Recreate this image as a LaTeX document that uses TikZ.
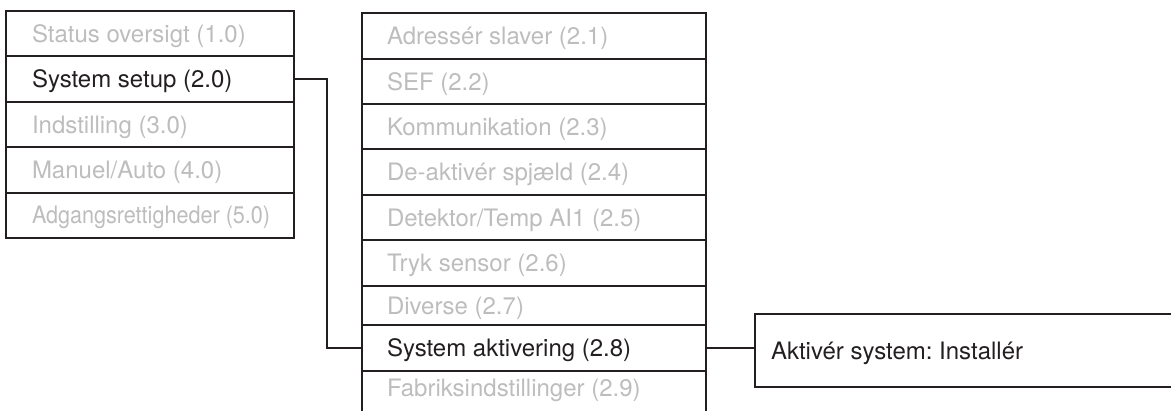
\documentclass[tikz,border=0pt]{standalone}
\usepackage{fontspec}
\setmainfont{TeX Gyre Heros}
\frenchspacing
\definecolor{linecol}{HTML}{231F20}
\definecolor{dimtext}{HTML}{BDBDBD}
\newcommand{\lrow}[1]{\makebox[236pt][l]{#1}}
\newcommand{\mrow}[1]{\makebox[294pt][l]{#1}}
\tikzset{
  box/.style={draw=linecol, line width=2pt, anchor=north west,
    inner ysep=0pt, text height=17.2pt, text depth=0pt,
    font=\fontsize{24}{28}\selectfont},
  lcol/.style={box, inner xsep=26pt},
  mcol/.style={box, inner xsep=25pt},
  dim/.style={text=dimtext},
  act/.style={text=linecol},
  conn/.style={draw=linecol, line width=2pt}
}
\begin{document}
\begin{tikzpicture}[x=1pt,y=-1pt]
\useasboundingbox (0,0) rectangle (1171,410);
\clip (0,0) rectangle (1171,410);
% left column
\node[lcol,dim,minimum height=45.4pt] (l1) at (5,10) {\lrow{Status oversigt (1.0)}};
\node[lcol,act,minimum height=45.4pt] (l2) at (5,55.4) {\lrow{System setup (2.0)}};
\node[lcol,dim,minimum height=45.4pt] (l3) at (5,100.8) {\lrow{Indstilling (3.0)}};
\node[lcol,dim,minimum height=45.4pt] (l4) at (5,146.2) {\lrow{Manuel/Auto (4.0)}};
\node[lcol,dim,minimum height=45.4pt] (l5) at (5,191.6) {\lrow{\scalebox{0.9}[1]{Adgangsrettigheder (5.0)}}};
% middle column
\node[mcol,dim,minimum height=46pt] (m1) at (361,12) {\mrow{Adressér slaver (2.1)}};
\node[mcol,dim,minimum height=45pt] (m2) at (361,58) {\mrow{SEF (2.2)}};
\node[mcol,dim,minimum height=45pt] (m3) at (361,103) {\mrow{Kommunikation (2.3)}};
\node[mcol,dim,minimum height=46pt] (m4) at (361,148) {\mrow{De-aktivér spjæld (2.4)}};
\node[mcol,dim,minimum height=45pt] (m5) at (361,194) {\mrow{Detektor/Temp AI1 (2.5)}};
\node[mcol,dim,minimum height=46pt] (m6) at (361,239) {\mrow{Tryk sensor (2.6)}};
\node[mcol,dim,minimum height=39pt] (m7) at (361,285) {\mrow{Diverse (2.7)}};
\node[mcol,act,minimum height=45.5pt] (m8) at (361,324) {\mrow{System aktivering (2.8)}};
\node[mcol,dim,minimum height=60pt,text height=0pt] (m9) at (361,369.5) {\mrow{}};
\node[box,dim,draw=none,anchor=base west,inner sep=0pt,text height=0pt] (m9t) at (386,396) {Fabriksindstillinger (2.9)};
% right box
\node[box,act,inner xsep=16pt,minimum height=73pt] (r1) at (754,313) {\makebox[420pt][l]{Aktivér system: Installér}};
% connectors
\draw[conn] (l2.east) -- ++(32,0) |- (m8.west);
\draw[conn] (m8.east) -- (m8.east -| r1.west);
\end{tikzpicture}
\end{document}
